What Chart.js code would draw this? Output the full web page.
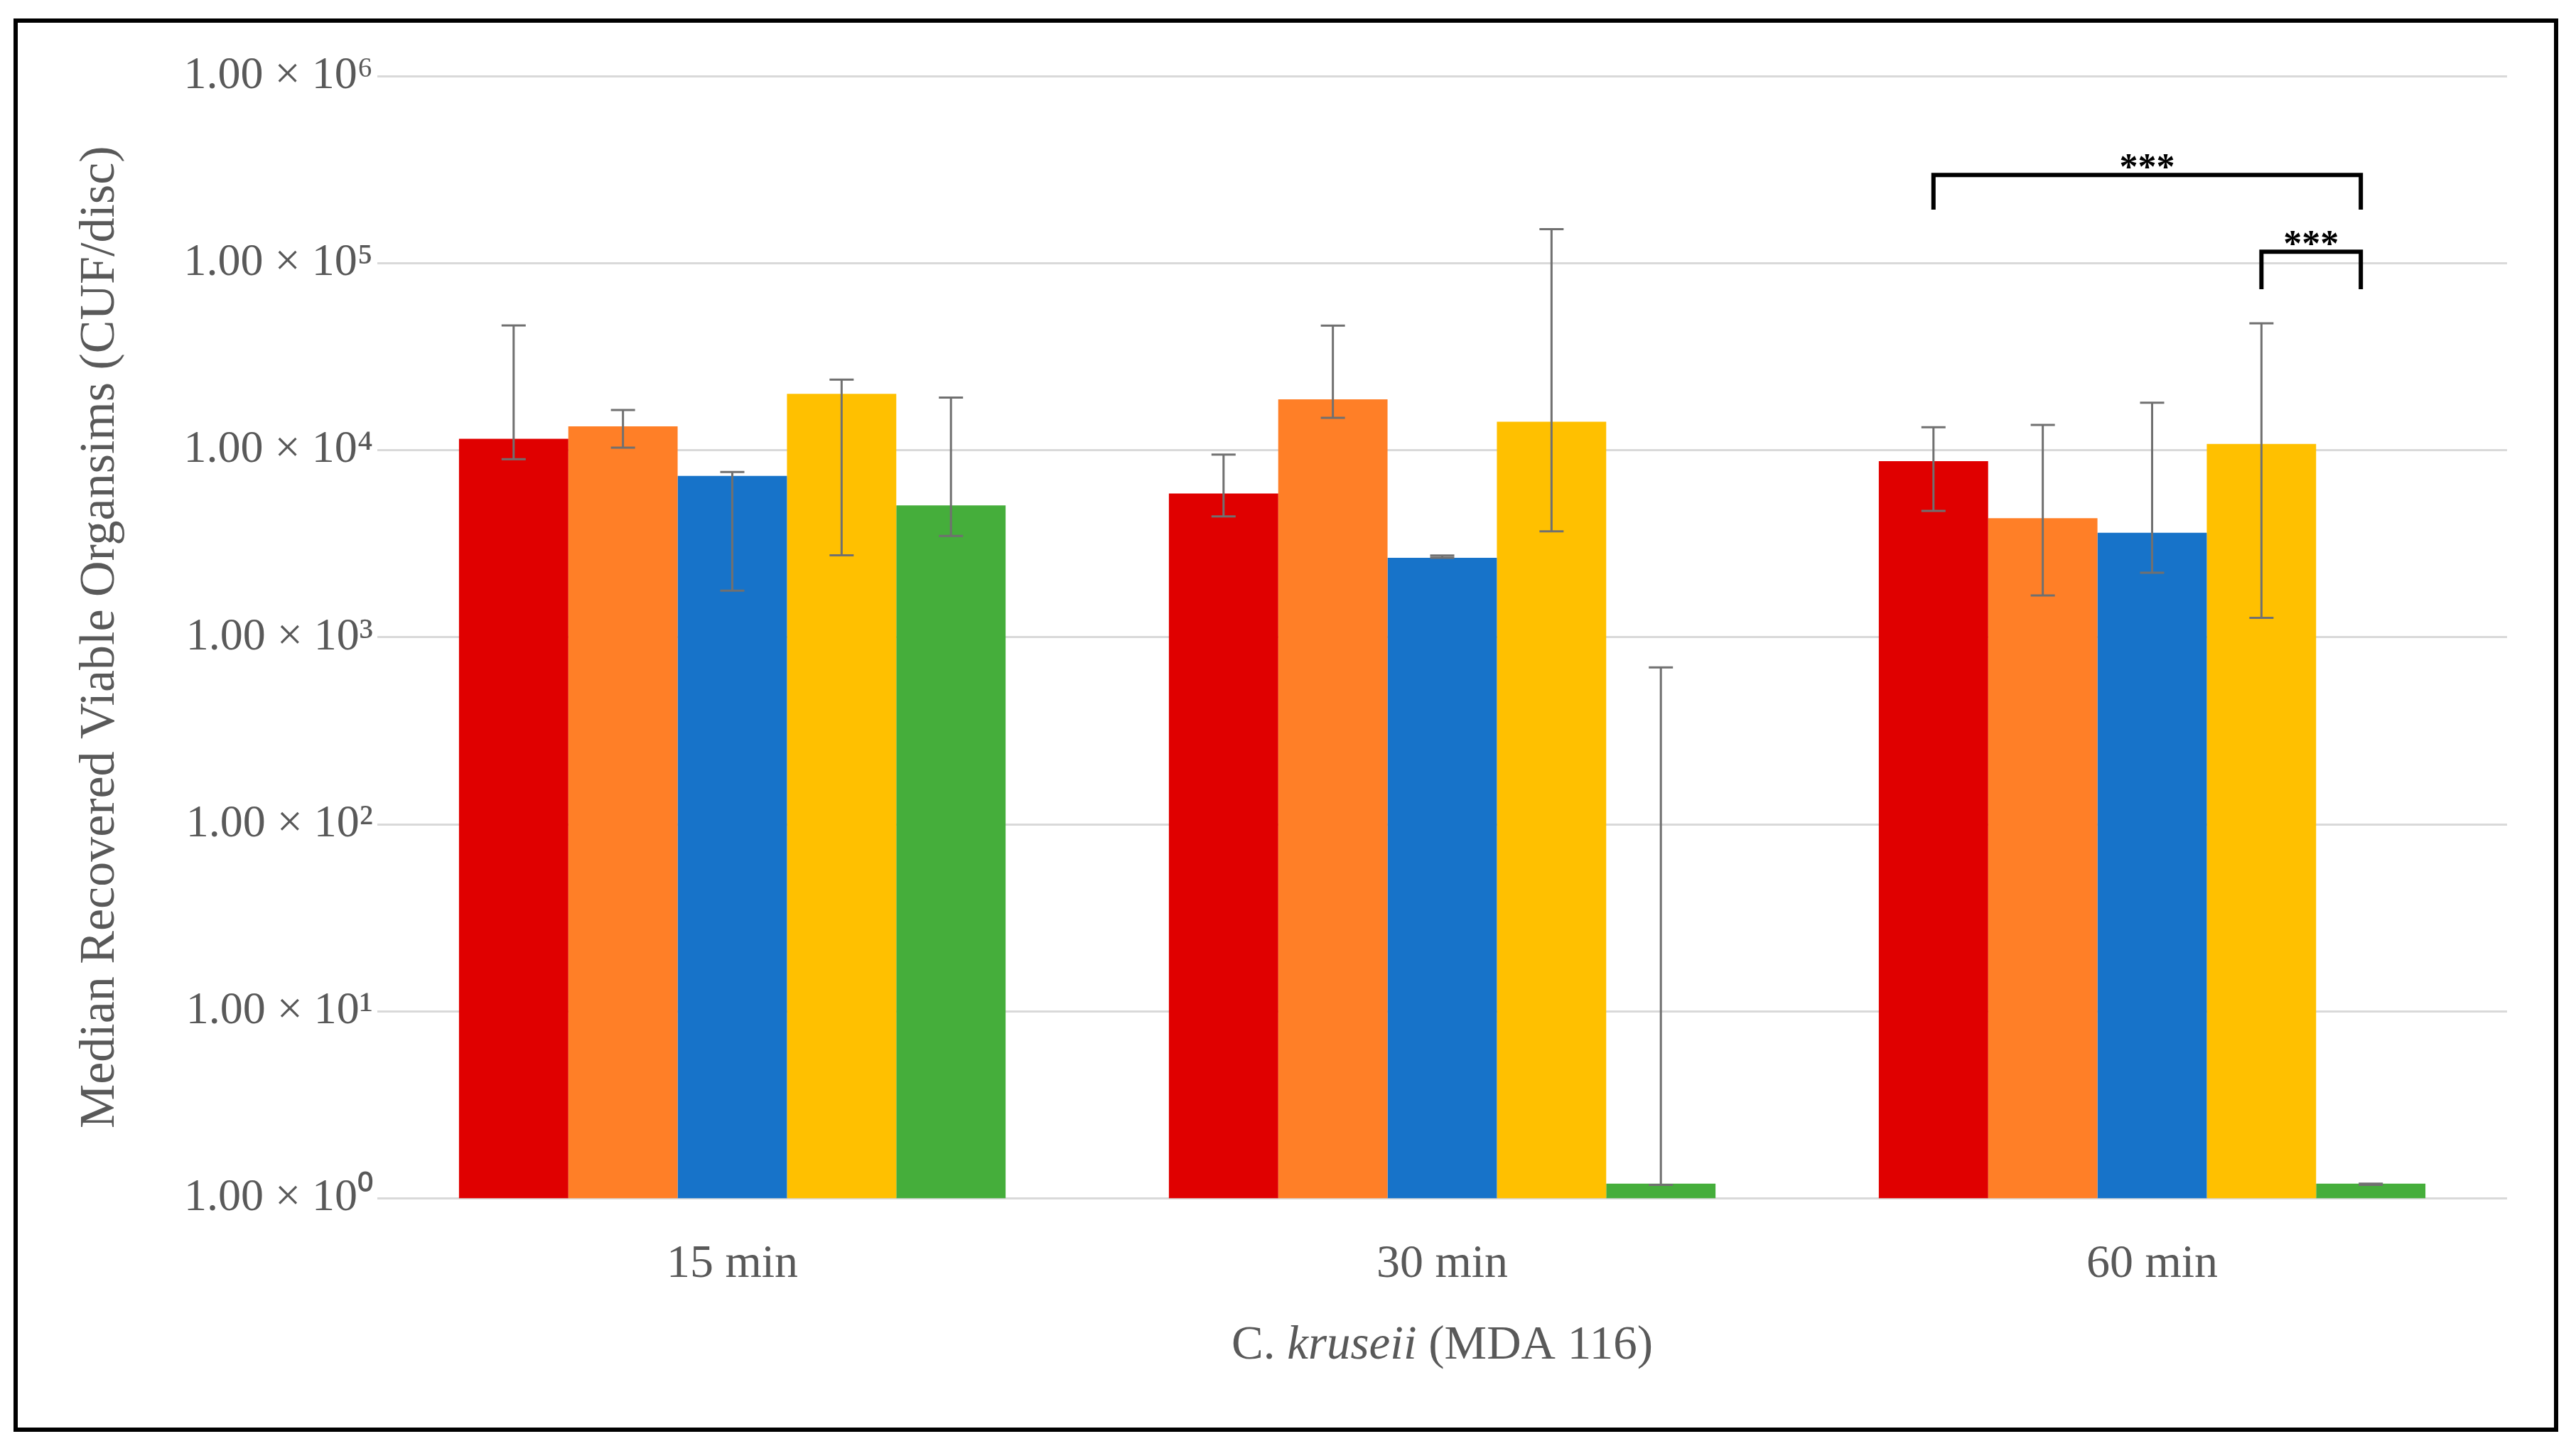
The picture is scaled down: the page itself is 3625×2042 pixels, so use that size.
<!DOCTYPE html>
<html>
<head>
<meta charset="utf-8">
<title>C. kruseii (MDA 116)</title>
<script src="https://cdn.jsdelivr.net/npm/chart.js@4.4.1/dist/chart.umd.min.js"></script>
<style>
    html, body { margin: 0; padding: 0; background: #ffffff; }
    #chart { display: block; }
</style>
</head>
<body>
<canvas id="chart" width="3625" height="2042"></canvas>
<script>
    "use strict";

    // categories and tick labels
    var categories = ['15 min', '30 min', '60 min'];
    var yTicks = [1, 10, 100, 1000, 10000, 100000, 1000000];
    var yTickLabels = ['1.00 \u00d7 10\u2070', '1.00 \u00d7 10\u00b9', '1.00 \u00d7 10\u00b2', '1.00 \u00d7 10\u00b3',
        '1.00 \u00d7 10\u2074', '1.00 \u00d7 10\u2075', '1.00 \u00d7 10\u2076'];

    // medians per series
    var redValues = [11500, 5860, 8740];
    var orangeValues = [13400, 18700, 4330];
    var blueValues = [7280, 2660, 3620];
    var yellowValues = [20000, 14200, 10800];
    var greenValues = [5070, 1.2, 1.2];

    // error bar ends (low / high)
    var redLow = [8950, 4420, 4730];
    var redHigh = [46400, 9460, 13270];
    var orangeLow = [10300, 14900, 1670];
    var orangeHigh = [16400, 46300, 13650];
    var blueLow = [1775, 2660, 2210];
    var blueHigh = [7650, 2735, 17940];
    var yellowLow = [2740, 3680, 1270];
    var yellowHigh = [23800, 152000, 47600];
    var greenLow = [3480, 1.18, 1.18];
    var greenHigh = [19100, 690, 1.2];

    // significance brackets (60 min group)
    var brackets = [
        { category: 2, from: 0, to: 4, top: 296000, foot: 193000, text: '***' },
        { category: 2, from: 3, to: 4, top: 115000, foot: 72500, text: '***' }
    ];

    var textGrey = '#595959';
    var serif = "'Liberation Serif', 'Times New Roman', serif";

    var errorBars = {
        id: 'errorBars',
        afterDatasetsDraw: function(chart) {
            var ctx = chart.ctx;
            var y = chart.scales.y;
            ctx.save();
            ctx.strokeStyle = '#707070';
            ctx.lineWidth = 3;
            chart.data.datasets.forEach(function(ds, i) {
                var meta = chart.getDatasetMeta(i);
                meta.data.forEach(function(bar, j) {
                    var yl = y.getPixelForValue(ds.errLow[j]);
                    var yh = y.getPixelForValue(ds.errHigh[j]);
                    ctx.beginPath();
                    ctx.moveTo(bar.x, yl);
                    ctx.lineTo(bar.x, yh);
                    ctx.moveTo(bar.x - 17, yh);
                    ctx.lineTo(bar.x + 17, yh);
                    ctx.moveTo(bar.x - 17, yl);
                    ctx.lineTo(bar.x + 17, yl);
                    ctx.stroke();
                });
            });
            ctx.restore();
        }
    };

    var extras = {
        id: 'extras',
        afterDraw: function(chart) {
            var ctx = chart.ctx;
            var y = chart.scales.y;
            ctx.save();

            // brackets
            ctx.strokeStyle = '#000000';
            ctx.fillStyle = '#000000';
            ctx.lineWidth = 6;
            ctx.lineJoin = 'miter';
            ctx.font = 'bold 52px ' + serif;
            ctx.textAlign = 'center';
            ctx.textBaseline = 'alphabetic';
            brackets.forEach(function(b) {
                var x1 = chart.getDatasetMeta(b.from).data[b.category].x;
                var x2 = chart.getDatasetMeta(b.to).data[b.category].x - 14;
                var yt = y.getPixelForValue(b.top);
                var yf = y.getPixelForValue(b.foot);
                ctx.beginPath();
                ctx.moveTo(x1, yf);
                ctx.lineTo(x1, yt);
                ctx.lineTo(x2, yt);
                ctx.lineTo(x2, yf);
                ctx.stroke();
                ctx.fillText(b.text, (x1 + x2) / 2, yt + 6);
            });

            // x axis title with italic species name
            var parts = [
                { t: 'C. ', f: '67px ' + serif },
                { t: 'kruseii', f: 'italic 67px ' + serif },
                { t: ' (MDA 116)', f: '67px ' + serif }
            ];
            var total = 0;
            parts.forEach(function(p) { ctx.font = p.f; p.w = ctx.measureText(p.t).width; total += p.w; });
            var cx = (chart.chartArea.left + chart.chartArea.right) / 2;
            var x = cx - total / 2;
            ctx.fillStyle = textGrey;
            ctx.textAlign = 'left';
            ctx.textBaseline = 'middle';
            parts.forEach(function(p) { ctx.font = p.f; ctx.fillText(p.t, x, 1894); x += p.w; });

            // frame
            ctx.strokeStyle = '#000000';
            ctx.lineWidth = 6;
            ctx.strokeRect(22, 29, 3575, 1983);
            ctx.restore();
        }
    };

    function makeSet(label, values, low, high, color) {
        return {
            label: label,
            data: values,
            errLow: low,
            errHigh: high,
            backgroundColor: color,
            borderWidth: 0,
            categoryPercentage: 0.77,
            barPercentage: 1.0
        };
    }

    new Chart(document.getElementById('chart').getContext('2d'), {
        type: 'bar',
        data: {
            labels: categories,
            datasets: [
                makeSet('Series 1', redValues, redLow, redHigh, '#E00000'),
                makeSet('Series 2', orangeValues, orangeLow, orangeHigh, '#FF7F27'),
                makeSet('Series 3', blueValues, blueLow, blueHigh, '#1773C9'),
                makeSet('Series 4', yellowValues, yellowLow, yellowHigh, '#FFC000'),
                makeSet('Series 5', greenValues, greenLow, greenHigh, '#45AE3B')
            ]
        },
        options: {
            responsive: false,
            animation: false,
            devicePixelRatio: 1,
            layout: { padding: { left: 0, right: 97, top: 107, bottom: 0 } },
            plugins: {
                legend: { display: false },
                tooltip: { enabled: false }
            },
            scales: {
                x: {
                    grid: { display: false, drawTicks: false },
                    border: { display: false },
                    ticks: { color: textGrey, font: { family: serif, size: 66 }, padding: 54 },
                    afterFit: function(scale) { scale.height = 2042 - 1686.5; }
                },
                y: {
                    type: 'logarithmic',
                    min: 1,
                    max: 1000000,
                    grid: { color: '#D9D9D9', lineWidth: 3, drawTicks: false },
                    border: { display: false },
                    afterBuildTicks: function(scale) {
                        scale.ticks = yTicks.map(function(v) { return { value: v }; });
                    },
                    ticks: {
                        color: textGrey,
                        font: { family: serif, size: 64 },
                        padding: 6,
                        callback: function(value) {
                            var i = yTicks.indexOf(value);
                            return i >= 0 ? yTickLabels[i] : '';
                        }
                    },
                    title: {
                        display: true,
                        text: 'Median Recovered Viable Organsims (CUF/disc)',
                        color: textGrey,
                        font: { family: serif, size: 70 },
                        padding: { top: 100, bottom: 0 }
                    },
                    afterFit: function(scale) { scale.width = 531; }
                }
            }
        },
        plugins: [errorBars, extras]
    });
</script>
</body>
</html>
